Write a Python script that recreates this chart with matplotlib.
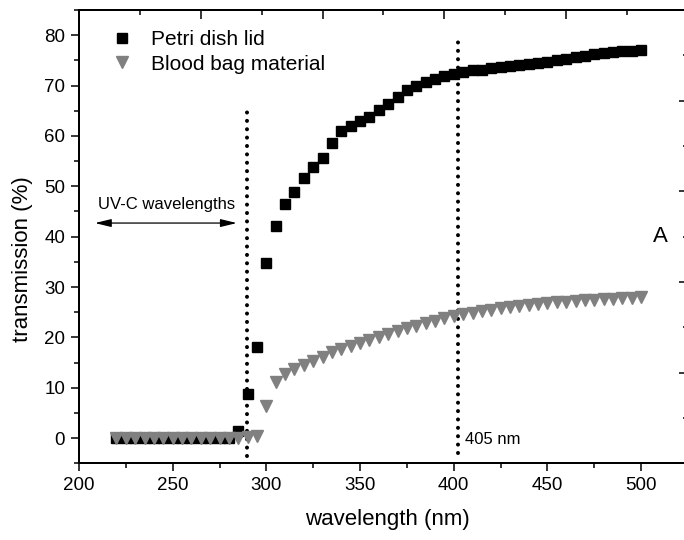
import matplotlib.pyplot as plt
from matplotlib.ticker import MultipleLocator, NullFormatter

plt.rcParams['font.family'] = ['Liberation Sans', 'DejaVu Sans']

# wavelength grid (nm), 5 nm steps
wavelength = list(range(220, 505, 5))

# Petri dish lid transmission (%)
petri = [0.0] * 13 + [1.5, 8.7, 18.0, 34.7, 42.2, 46.4, 48.8, 51.6, 53.8, 55.6,
                      58.6, 61.0, 61.9, 62.9, 63.7, 65.1, 66.4, 67.7, 69.2, 70.0,
                      70.8, 71.3, 71.8, 72.3, 72.7, 73.0, 73.1, 73.4, 73.6, 73.8,
                      74.0, 74.2, 74.4, 74.7, 75.0, 75.3, 75.6, 75.9, 76.2, 76.4,
                      76.6, 76.8, 76.9, 77.0]

# Blood bag material transmission (%)
blood = [0.0] * 14 + [0.2, 0.4, 6.3, 11.2, 12.7, 13.7, 14.5, 15.3, 16.2, 17.0,
                      17.6, 18.2, 18.8, 19.4, 20.0, 20.6, 21.2, 21.8, 22.3, 22.8,
                      23.3, 23.8, 24.2, 24.6, 24.9, 25.2, 25.5, 25.8, 26.0, 26.2,
                      26.4, 26.6, 26.8, 27.0, 27.1, 27.3, 27.4, 27.5, 27.6, 27.7,
                      27.8, 27.9, 28.0]

fig = plt.figure(figsize=(6.84, 5.4), dpi=100)
ax = fig.add_axes([79 / 684, 76.7 / 540, 609 / 684, 453.3 / 540])

ax.plot(wavelength, petri, 's', color='black', ms=7, label='Petri dish lid', zorder=3)
ax.plot(wavelength, blood, 'v', color='#808080', ms=8, label='Blood bag material', zorder=4)

# dotted markers for UV-C edge and 405 nm
dot = dict(color='black', lw=2.9, linestyle=(0, (0.01, 2.07)), dash_capstyle='round', zorder=2)
ax.plot([289.5, 289.5], [-3.6, 66.1], **dot)
ax.plot([402, 402], [-3.0, 79.3], **dot)

ax.annotate('', xy=(208.5, 42.7), xytext=(284.2, 42.7),
            arrowprops=dict(arrowstyle='<|-|>,head_length=0.7,head_width=0.17', color='black',
                            lw=0.9, mutation_scale=14, shrinkA=0, shrinkB=0))
ax.text(246.7, 46.4, 'UV-C wavelengths', fontsize=12, ha='center', va='center')
ax.text(406, -0.2, '405 nm', fontsize=12, ha='left', va='center')
ax.text(510, 40, 'A', fontsize=16, ha='center', va='center')

ax.set_xlim(200, 525)
ax.set_ylim(-5, 85)
ax.xaxis.set_major_locator(MultipleLocator(50))
ax.xaxis.set_minor_locator(MultipleLocator(25))
ax.yaxis.set_major_locator(MultipleLocator(10))
ax.yaxis.set_minor_locator(MultipleLocator(5))
ax.set_xticks([200, 250, 300, 350, 400, 450, 500])
ax.tick_params(which='both', direction='out', width=1.1, labelsize=13.5, pad=4,
               top=False, right=False)
ax.tick_params(which='major', length=6)
ax.tick_params(which='minor', length=3.6)

ax.set_xlabel('wavelength (nm)', fontsize=16)
ax.set_ylabel('transmission (%)', fontsize=16)
ax.xaxis.set_label_coords(0.5066, -0.125)
ax.xaxis.label.set_va('center')
ax.yaxis.set_label_coords(-0.092, 0.45)
ax.yaxis.label.set_va('center')

# top and right frame ticks (from a wider frame)
top = ax.twiny()
top.set_xlim(200, 450)
top.xaxis.set_major_locator(MultipleLocator(50))
top.xaxis.set_minor_locator(MultipleLocator(25))
top.xaxis.set_major_formatter(NullFormatter())
top.tick_params(which='both', direction='in', width=1.1)
top.tick_params(which='major', length=6.5)
top.tick_params(which='minor', length=3.6)

right = ax.twinx()
right.set_ylim(-10, 40)
right.yaxis.set_major_locator(MultipleLocator(10))
right.yaxis.set_minor_locator(MultipleLocator(5))
right.yaxis.set_major_formatter(NullFormatter())
right.tick_params(which='both', direction='in', width=1.1)
right.tick_params(which='major', length=6.5)
right.tick_params(which='minor', length=3.6)

for a in (ax, top, right):
    for s in a.spines.values():
        s.set_linewidth(1.4)

ax.legend(loc='upper left', bbox_to_anchor=((111.3 - 79) / 609, 0.955),
          frameon=False, fontsize=15, handlelength=1.0, handletextpad=0.9,
          borderpad=0, borderaxespad=0, labelspacing=0.25, numpoints=1)

fig.savefig('out.png', dpi=100)
